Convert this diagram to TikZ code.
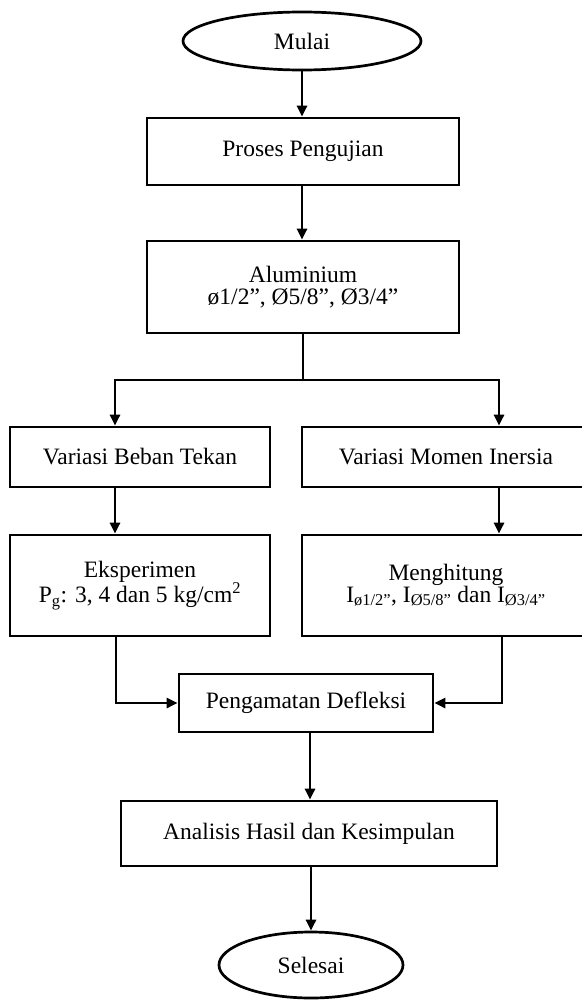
\documentclass[tikz,border=0pt]{standalone}
\usepackage{fontspec}
\setmainfont{Liberation Serif}
\usetikzlibrary{arrows.meta,shapes.geometric}
\tikzset{
  boxnode/.style={draw, line width=2.7pt, rectangle, inner sep=0pt, align=center,
    font=\fontsize{23.5}{21.5}\selectfont},
  ovalnode/.style={draw, line width=2.7pt, ellipse, inner sep=0pt,
    font=\fontsize{23.5}{21.5}\selectfont},
  arr/.style={line width=2.7pt, -{Triangle[length=11pt,width=10pt]}},
  ln/.style={line width=2.7pt}
}
\begin{document}
\begin{tikzpicture}[x=1pt,y=-1pt]
\useasboundingbox (0,0) rectangle (581,1001);
\node[ovalnode, minimum width=238pt, minimum height=58pt] (mulai) at (302,41) {Mulai};
\node[boxnode, minimum width=312pt, minimum height=67pt] (proses) at (303,151.5) {Proses Pengujian};
\node[boxnode, minimum width=312pt, minimum height=92pt] (alum) at (303,287) {Aluminium\\ø1/2”, Ø5/8”, Ø3/4”};
\node[boxnode, minimum width=260pt, minimum height=60pt] (vbt) at (140,457) {Variasi Beban Tekan};
\node[boxnode, minimum width=288pt, minimum height=60pt] (vmi) at (446,457) {Variasi Momen Inersia};
\node[boxnode, minimum width=260pt, minimum height=101pt] (eks) at (140,585.5) {Eksperimen\\P\textsubscript{g}: 3, 4 dan 5 kg/cm\textsuperscript{2}};
\node[boxnode, minimum width=288pt, minimum height=101pt] (meng) at (446,585.5) {Menghitung\\I\textsubscript{ø1/2”}, I\textsubscript{Ø5/8”} dan I\textsubscript{Ø3/4”}};
\node[boxnode, minimum width=254pt, minimum height=58pt] (peng) at (306,703) {Pengamatan Defleksi};
\node[boxnode, minimum width=376pt, minimum height=65pt] (anal) at (309,833.5) {Analisis Hasil dan Kesimpulan};
\node[ovalnode, minimum width=184pt, minimum height=66pt] (selesai) at (311,965) {Selesai};

\coordinate (bl) at (115,380);
\coordinate (br) at (499,380);

\draw[arr] (mulai.south) -- (mulai.south |- proses.north);
\draw[arr] (proses.south -| mulai.south) -- (alum.north -| mulai.south);
\draw[ln] (alum.south) -- (alum.south |- bl);
\draw[arr] (alum.south |- bl) -- (bl) -- (bl |- vbt.north);
\draw[arr] (alum.south |- br) -- (br) -- (br |- vmi.north);
\draw[arr] (bl |- vbt.south) -- (bl |- eks.north);
\draw[arr] (br |- vmi.south) -- (br |- meng.north);
\draw[arr] ([xshift=1pt]bl |- eks.south) |- (peng.west);
\draw[arr] ([xshift=3pt]br |- meng.south) |- (peng.east);
\draw[arr] ([xshift=4pt]peng.south) -- ([xshift=4pt]peng.south |- anal.north);
\draw[arr] (selesai.north |- anal.south) -- (selesai.north);
\end{tikzpicture}
\end{document}
